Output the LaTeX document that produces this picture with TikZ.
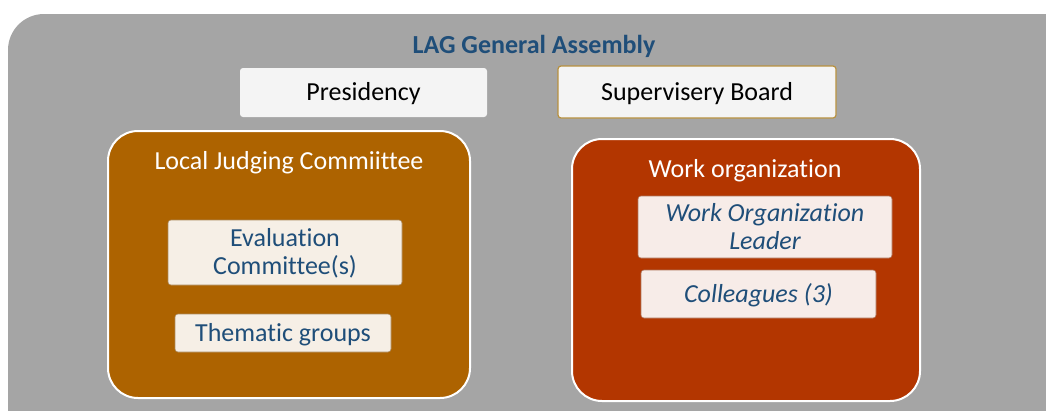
\documentclass[tikz,border=0pt]{standalone}
\usepackage{fontspec}
\setmainfont{Carlito}[Ligatures=NoCommon]
\definecolor{bggray}{HTML}{A5A5A5}
\definecolor{titleblue}{HTML}{1F4E79}
\definecolor{brownbox}{HTML}{AD6300}
\definecolor{redbox}{HTML}{B33600}
\definecolor{lightbox}{HTML}{F4F4F4}
\definecolor{goldline}{HTML}{B8913F}
\definecolor{creambox}{HTML}{F6EFE6}
\definecolor{pinkbox}{HTML}{F7ECE8}
\tikzset{
  topbox/.style={fill=lightbox, rounded corners=3pt},
  group/.style={draw=white, line width=2pt, rounded corners=30pt},
  inner/.style={rounded corners=3pt, font=\fontsize{26}{28}\selectfont, text=titleblue, align=center},
  grouptitle/.style={text=white, font=\fontsize{26}{30}\selectfont},
  toptext/.style={font=\fontsize{26}{30}\selectfont, text=black}
}
\begin{document}
\begin{tikzpicture}[x=1pt,y=-1pt]
\useasboundingbox (0,0) rectangle (1046,410);
\fill[white] (0,0) rectangle (1046,410);
% gray assembly background
\fill[bggray, rounded corners=36pt] (8,14) rectangle (1080,460);
\node[font=\fontsize{26}{30}\selectfont\bfseries, text=titleblue] (title) at (534,46) {LAG General Assembly};
% top boxes
\path[topbox] (240,68) rectangle (487,117);
\node[toptext] (pres) at (363.5,94) {Presidency};
\path[topbox, draw=goldline, line width=1.2pt] (558,66) rectangle (836,118);
\node[toptext] (sup) at (697,93.5) {Supervisery Board};
% Local Judging Committee
\path[group, fill=brownbox] (108,131) rectangle (470,398);
\node[grouptitle] (ljc) at (289,162.5) {Local Judging Commiittee};
\path[inner, fill=creambox, draw=brownbox!70!black!60!creambox, line width=0.6pt] (168,220) rectangle (402,285);
\node[inner] (eval) at (285,253.5) {Evaluation\\Committee(s)};
\path[inner, fill=creambox, draw=brownbox!70!black!60!creambox, line width=0.6pt] (175,314) rectangle (391,352);
\node[inner] (them) at (283,334.5) {Thematic groups};
% Work organization
\path[group, fill=redbox] (572,139) rectangle (920,401);
\node[grouptitle] (wo) at (745,170.5) {Work organization};
\path[inner, fill=pinkbox, draw=redbox!70!black!60!pinkbox, line width=0.6pt] (638,196) rectangle (892,258);
\node[inner, font=\fontsize{26}{28}\selectfont\itshape] (wol) at (765,226.5) {Work Organization\\Leader};
\path[inner, fill=pinkbox, draw=redbox!70!black!60!pinkbox, line width=0.6pt] (641,270) rectangle (876,318);
\node[inner, font=\fontsize{26}{28}\selectfont\itshape] (col) at (758.5,295.5) {Colleagues (3)};
\end{tikzpicture}
\end{document}
